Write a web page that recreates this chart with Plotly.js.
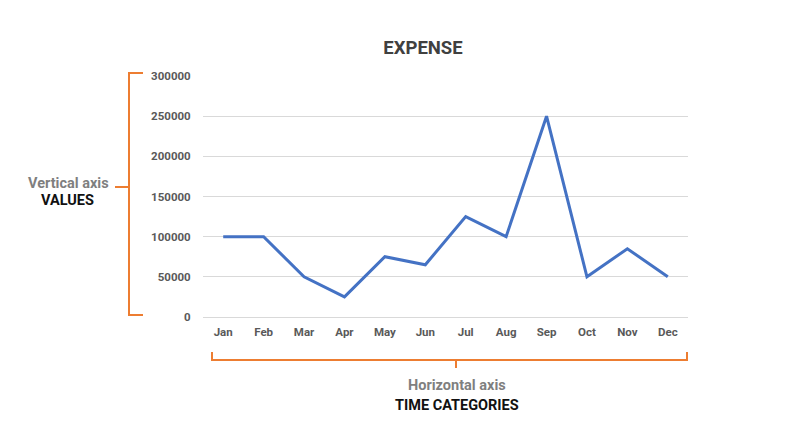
<!DOCTYPE html>
<html><head><meta charset="utf-8">
<script src="https://cdn.plot.ly/plotly-3.0.1.min.js"></script>
<style>html,body{margin:0;padding:0;background:#fff}#chart{width:796px;height:439px}</style>
</head><body><div id="chart"></div>
<script>
const months = ['Jan','Feb','Mar','Apr','May','Jun','Jul','Aug','Sep','Oct','Nov','Dec'];
const expense = [100000,100000,50000,25000,75000,65000,125000,100000,250000,50000,85000,50000];
const yTicks = [0,50000,100000,150000,200000,250000,300000];

const orange = '#ED7D31';
const L = 203, R = 688, T = 76, B = 317;
const px = x => (x - L) / (R - L);
const py = y => (B - y) / (B - T);
const line = (x0,y0,x1,y1) => ({type:'line', xref:'paper', yref:'paper', x0:px(x0), y0:py(y0), x1:px(x1), y1:py(y1), line:{color:orange, width:2}});

const shapes = [
  line(129,73,129,315), line(128,73,143,73), line(128,315,143,315), line(115,187,129,187),
  line(212,360,687,360), line(212,352,212,361), line(687,352,687,361), line(456,359,456,368)
];
const ann = (x,y,text,color,size) => ({xref:'paper', yref:'paper', x:px(x), y:py(y), text:text, showarrow:false, xanchor:'center', yanchor:'middle', font:{family:'Roboto', size:size, color:color}});
const annotations = [
  ann(68,183,'<b>Vertical axis</b>','#7f7f7f',14.5),
  ann(67.5,200,'<b>VALUES</b>','#111111',14.5),
  ann(457,386,'<b>Horizontal axis</b>','#7f7f7f',14.5),
  ann(457,405,'<b>TIME CATEGORIES</b>','#111111',14.5)
];

Plotly.newPlot('chart', [{
  x: months, y: expense, type:'scatter', mode:'lines',
  line:{color:'#4472C4', width:3}
}], {
  width:796, height:439,
  margin:{l:L, r:796-R, t:T, b:439-B},
  paper_bgcolor:'#fff', plot_bgcolor:'#fff',
  showlegend:false,
  title:{text:'<b>EXPENSE</b>', xref:'container', x:423/796, xanchor:'center', yref:'container', y:(439-48)/439, yanchor:'middle', font:{family:'Roboto', size:18.5, color:'#404040'}},
  xaxis:{type:'category', range:[-0.5,11.5], showgrid:false, zeroline:false, showline:true, linecolor:'#d9d9d9', linewidth:1,
    ticks:'outside', ticklen:4, tickcolor:'rgba(0,0,0,0)', tickfont:{family:'Roboto', size:11.5, color:'#595959', weight:'bold'}},
  yaxis:{range:[0,300000], tickvals:yTicks, ticktext:yTicks.map(String), showgrid:true, gridcolor:'#d9d9d9', gridwidth:1, zeroline:false,
    ticks:'outside', ticklen:9, tickcolor:'rgba(0,0,0,0)', tickfont:{family:'Roboto', size:11.5, color:'#595959', weight:'bold'}},
  shapes: shapes, annotations: annotations
}, {staticPlot:true});
</script></body></html>
